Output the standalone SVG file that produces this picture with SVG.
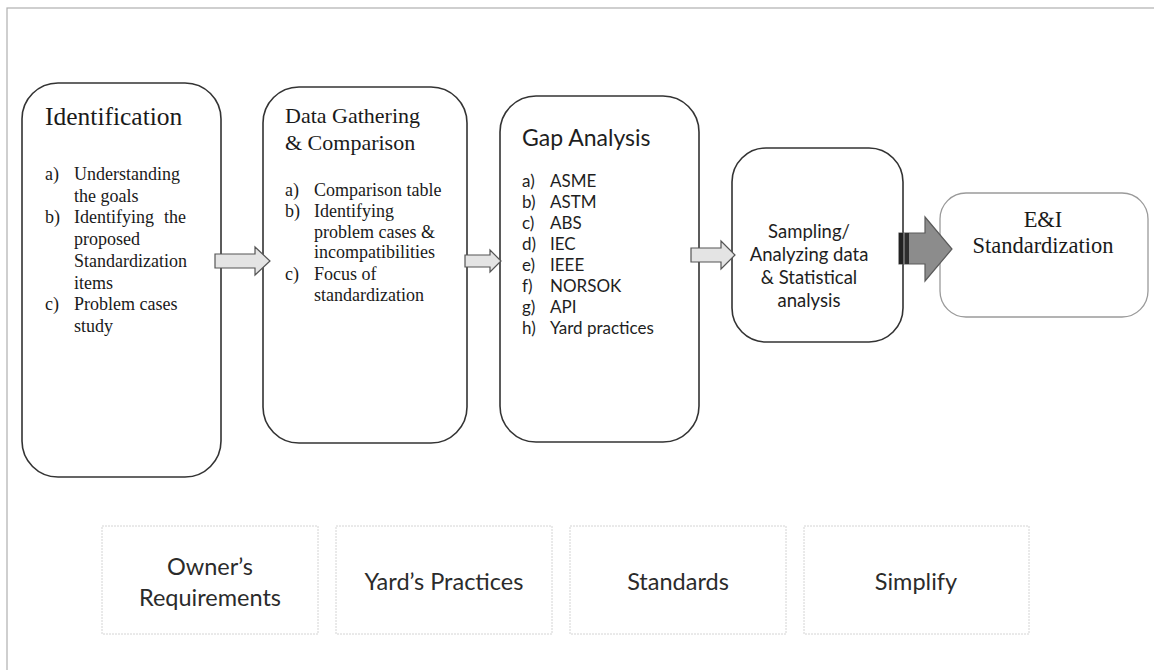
<svg xmlns="http://www.w3.org/2000/svg" width="1154" height="670" viewBox="0 0 1154 670">
  <style>
    .stage { fill: #ffffff; stroke: #333333; stroke-width: 1.6; }
    .result { fill: #ffffff; stroke: #9a9a9a; stroke-width: 1.3; }
    .tile { fill: #ffffff; stroke: #d4d4d4; stroke-width: 1; stroke-dasharray: 2 1; }
    .serif { font-family: "Liberation Serif", "Times New Roman", serif; fill: #1a1a1a; }
    .sans { font-family: Lato, "Liberation Sans", sans-serif; fill: #1e1e1e; }
    .tileText { font-family: Lato, "Liberation Sans", sans-serif; fill: #2b2b2b; font-size: 23.5px; text-anchor: middle; }
    .flow { fill: #e4e4e4; stroke: #555555; stroke-width: 1.2; }
    .flowDark { fill: #8c8c8c; stroke: #5a5a5a; stroke-width: 1.2; }
  </style>

  <!-- page frame -->
  <rect x="7" y="8" width="1160" height="680" fill="#ffffff" stroke="#b0b0b0" stroke-width="1.2"/>

  <!-- Stage 1 -->
  <g id="identification">
    <rect class="stage" x="22" y="83" width="199" height="394" rx="36" ry="36"/>
    <text class="serif" x="45" y="125" font-size="25.5">Identification</text>
    <g class="serif" font-size="18">
      <text x="45" y="180">a)</text>
      <text x="74" y="180">Understanding</text>
      <text x="74" y="201.7">the goals</text>
      <text x="45" y="223.4">b)</text>
      <text x="74" y="223.4">Identifying<tspan x="164">the</tspan></text>
      <text x="74" y="245.1">proposed</text>
      <text x="74" y="266.8">Standardization</text>
      <text x="74" y="288.5">items</text>
      <text x="45" y="310.2">c)</text>
      <text x="74" y="310.2">Problem cases</text>
      <text x="74" y="331.9">study</text>
    </g>
  </g>

  <!-- Stage 2 -->
  <g id="data-gathering">
    <rect class="stage" x="263" y="87" width="204" height="356" rx="36" ry="36"/>
    <text class="serif" x="285" y="123" font-size="22">Data Gathering</text>
    <text class="serif" x="285" y="150" font-size="22">&amp; Comparison</text>
    <g class="serif" font-size="18">
      <text x="285" y="196">a)</text>
      <text x="314" y="196">Comparison table</text>
      <text x="285" y="216.5">b)</text>
      <text x="314" y="216.5">Identifying</text>
      <text x="314" y="238">problem cases &amp;</text>
      <text x="314" y="258">incompatibilities</text>
      <text x="285" y="280">c)</text>
      <text x="314" y="280">Focus of</text>
      <text x="314" y="301">standardization</text>
    </g>
  </g>

  <!-- Stage 3 -->
  <g id="gap-analysis">
    <rect class="stage" x="500" y="96" width="199" height="346" rx="36" ry="36"/>
    <text class="sans" x="522" y="146" font-size="23">Gap Analysis</text>
    <g class="sans" font-size="17">
      <text x="522" y="187">a)</text><text x="550" y="187">ASME</text>
      <text x="522" y="208">b)</text><text x="550" y="208">ASTM</text>
      <text x="522" y="229">c)</text><text x="550" y="229">ABS</text>
      <text x="522" y="250">d)</text><text x="550" y="250">IEC</text>
      <text x="522" y="271">e)</text><text x="550" y="271">IEEE</text>
      <text x="522" y="292">f)</text><text x="550" y="292">NORSOK</text>
      <text x="522" y="313">g)</text><text x="550" y="313">API</text>
      <text x="522" y="334">h)</text><text x="550" y="334">Yard practices</text>
    </g>
  </g>

  <!-- Stage 4 -->
  <g id="sampling">
    <rect class="stage" x="732" y="148" width="171" height="194" rx="34" ry="34"/>
    <g class="sans" font-size="18.5" text-anchor="middle">
      <text x="809" y="238">Sampling/</text>
      <text x="809" y="261">Analyzing data</text>
      <text x="809" y="284">&amp; Statistical</text>
      <text x="809" y="307">analysis</text>
    </g>
  </g>

  <!-- Outcome -->
  <g id="standardization">
    <rect class="result" x="940" y="193" width="208" height="124" rx="26" ry="26"/>
    <g class="serif" font-size="22.5" text-anchor="middle">
      <text x="1043" y="227">E&amp;I</text>
      <text x="1043" y="253">Standardization</text>
    </g>
  </g>

  <!-- Inputs along the bottom -->
  <g id="owners-requirements">
    <rect class="tile" x="102" y="526" width="216" height="108"/>
    <text class="tileText" x="210" y="575">Owner’s</text>
    <text class="tileText" x="210" y="606">Requirements</text>
  </g>
  <g id="yards-practices">
    <rect class="tile" x="336" y="526" width="216" height="108"/>
    <text class="tileText" x="444" y="590">Yard’s Practices</text>
  </g>
  <g id="standards">
    <rect class="tile" x="570" y="526" width="216" height="108"/>
    <text class="tileText" x="678" y="590">Standards</text>
  </g>
  <g id="simplify">
    <rect class="tile" x="804" y="526" width="225" height="108"/>
    <text class="tileText" x="916" y="590">Simplify</text>
  </g>

  <!-- Block arrows between stages -->
  <g id="connectors">
    <path class="flow" d="M215,254 H255 V247 L270,261 L255,275 V268 H215 Z"/>
    <path class="flow" d="M465,255 H490 V250 L501,261 L490,272 V267 H465 Z"/>
    <path class="flow" d="M691,248 H721 V241 L735,255 L721,269 V262 H691 Z"/>
    <path class="flowDark" d="M899,233 H925 V217 L952,249 L925,281 V264 H899 Z"/>
    <rect x="899" y="233" width="4" height="31" fill="#222222"/>
    <rect x="903" y="233" width="2" height="31" fill="#6a6a6a"/>
    <rect x="905" y="233" width="4" height="31" fill="#2e2e2e"/>
  </g>
</svg>
